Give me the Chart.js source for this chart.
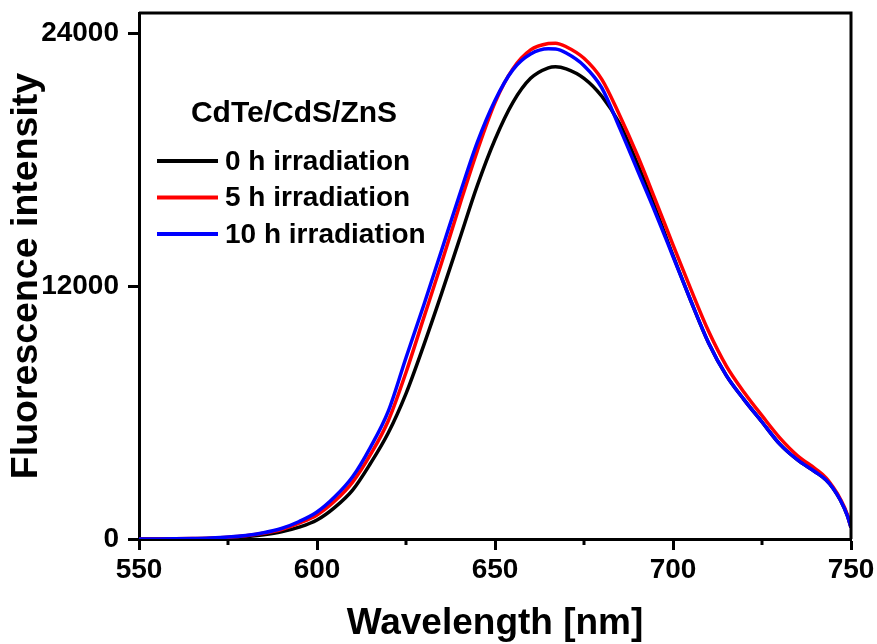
<!DOCTYPE html>
<html>
<head>
<meta charset="utf-8">
<script src="https://cdn.jsdelivr.net/npm/chart.js@4.4.1/dist/chart.umd.min.js"></script>
<style>
  html, body { margin: 0; padding: 0; background: #fff; }
  #chart { display: block; background: #fff; }
</style>
</head>
<body>
<canvas id="chart" width="877" height="644"></canvas>
<script>
// wavelength grid (nm)
const wavelengths = [550, 555, 560, 565, 570, 575, 580, 585, 590, 595, 600, 605, 610, 615, 620, 625, 630, 635, 640, 645,
  650, 655, 660, 665, 667, 670, 675, 680, 685, 690, 695, 700, 705, 710, 715, 720, 725, 730, 735, 740, 743, 745, 747, 749, 750];

const irr0h = [0, 1, 4, 12, 25, 50, 105, 200, 340, 560, 900, 1500, 2320, 3580, 5030, 6900, 9200, 11650, 14200, 16750,
  18950, 20700, 21850, 22350, 22400, 22300, 21850, 21000, 19700, 17800, 15700, 13450, 11300, 9300, 7750, 6600, 5550, 4500, 3750, 3180, 2800, 2400, 1850, 1100, 550];

const irr5h = [0, 2, 7, 18, 40, 80, 150, 270, 450, 750, 1140, 1800, 2700, 4000, 5600, 7900, 10500, 13100, 15800, 18400,
  20700, 22300, 23200, 23500, 23520, 23350, 22800, 21800, 20100, 18200, 16100, 13950, 11850, 9850, 8200, 6950, 5850, 4800, 3950, 3330, 2900, 2450, 1900, 1150, 550];

const irr10h = [0, 2, 8, 20, 45, 90, 170, 300, 500, 830, 1280, 2000, 2950, 4350, 6050, 8600, 11100, 13700, 16300, 18800,
  20800, 22250, 23000, 23250, 23240, 23050, 22450, 21400, 19500, 17500, 15500, 13400, 11300, 9300, 7750, 6600, 5550, 4500, 3750, 3180, 2800, 2400, 1850, 1100, 550];

const seriesLabels = ['0 h irradiation', '5 h irradiation', '10 h irradiation'];
const legendTitle = 'CdTe/CdS/ZnS';
const xTicks = [550, 600, 650, 700, 750];
const xMinorTicks = [575, 625, 675, 725];
const yTicks = [0, 12000, 24000];

const FONT = '"Liberation Sans", Arial, sans-serif';

const toPoints = (vals) => vals.map((v, i) => ({ x: wavelengths[i], y: v }));

// frame, minor ticks and the in-plot legend
const extras = {
    id: 'extras',
    afterDraw(chart) {
        const { ctx, chartArea: a, scales } = chart;
        ctx.save();
        ctx.strokeStyle = '#000';
        ctx.lineWidth = 3;
        ctx.beginPath();
        ctx.moveTo(a.left, a.top);
        ctx.lineTo(a.right, a.top);
        ctx.lineTo(a.right, a.bottom);
        ctx.stroke();

        xMinorTicks.forEach(v => {
            const px = scales.x.getPixelForValue(v);
            ctx.beginPath();
            ctx.moveTo(px, a.bottom);
            ctx.lineTo(px, a.bottom + 6);
            ctx.stroke();
        });

        // legend
        ctx.fillStyle = '#000';
        ctx.font = 'bold 30px ' + FONT;
        ctx.textBaseline = 'middle';
        ctx.textAlign = 'center';
        ctx.fillText(legendTitle, 294, 114);
        ctx.font = 'bold 28px ' + FONT;
        ctx.textAlign = 'left';
        chart.data.datasets.forEach((ds, i) => {
            const y = 161 + i * 36.5;
            ctx.strokeStyle = ds.borderColor;
            ctx.lineWidth = 4;
            ctx.beginPath();
            ctx.moveTo(157, y);
            ctx.lineTo(218, y);
            ctx.stroke();
            ctx.fillText(ds.label, 225, y + 1);
        });
        ctx.restore();
    }
};

new Chart(document.getElementById('chart'), {
    type: 'line',
    data: {
        datasets: [
            { label: seriesLabels[0], data: toPoints(irr0h), borderColor: '#000000', order: 3 },
            { label: seriesLabels[1], data: toPoints(irr5h), borderColor: '#ff0000', order: 2 },
            { label: seriesLabels[2], data: toPoints(irr10h), borderColor: '#0000ff', order: 1 }
        ]
    },
    options: {
        responsive: false,
        animation: false,
        devicePixelRatio: 1,
        layout: { padding: { left: 0, right: 26, top: 13, bottom: 0 } },
        elements: {
            point: { radius: 0 },
            line: { borderWidth: 3.5, cubicInterpolationMode: 'monotone', fill: false }
        },
        plugins: {
            legend: { display: false },
            tooltip: { enabled: false }
        },
        scales: {
            x: {
                type: 'linear',
                min: 550,
                max: 750,
                afterFit: (scale) => {
                    scale.height = 105;
                    scale.paddingLeft = 0;
                    scale.paddingRight = 0;
                },
                afterBuildTicks: (scale) => { scale.ticks = xTicks.map(v => ({ value: v })); },
                grid: {
                    drawOnChartArea: false,
                    drawTicks: true,
                    tickLength: 11,
                    tickWidth: 3,
                    tickColor: '#000'
                },
                border: { display: true, color: '#000', width: 3 },
                ticks: {
                    color: '#000',
                    padding: 3,
                    maxRotation: 0,
                    callback: (v) => String(v),
                    font: { family: FONT, size: 28, weight: 'bold' }
                },
                title: {
                    display: true,
                    text: 'Wavelength [nm]',
                    color: '#000',
                    padding: { top: 0, bottom: 0 },
                    font: { family: FONT, size: 37, weight: 'bold', lineHeight: 1.1 }
                }
            },
            y: {
                type: 'linear',
                min: 0,
                max: 24950,
                afterFit: (scale) => {
                    scale.width = 139;
                    scale.paddingTop = 0;
                    scale.paddingBottom = 0;
                },
                afterBuildTicks: (scale) => { scale.ticks = yTicks.map(v => ({ value: v })); },
                grid: {
                    drawOnChartArea: false,
                    drawTicks: true,
                    tickLength: 11,
                    tickWidth: 3,
                    tickColor: '#000'
                },
                border: { display: true, color: '#000', width: 3 },
                ticks: {
                    color: '#000',
                    padding: 9,
                    callback: (v) => String(v),
                    font: { family: FONT, size: 28, weight: 'bold' }
                },
                title: {
                    display: true,
                    text: 'Fluorescence intensity',
                    color: '#000',
                    padding: { top: 6, bottom: 0 },
                    font: { family: FONT, size: 37.5, weight: 'bold', lineHeight: 1.1 }
                }
            }
        }
    },
    plugins: [extras]
});
</script>
</body>
</html>
